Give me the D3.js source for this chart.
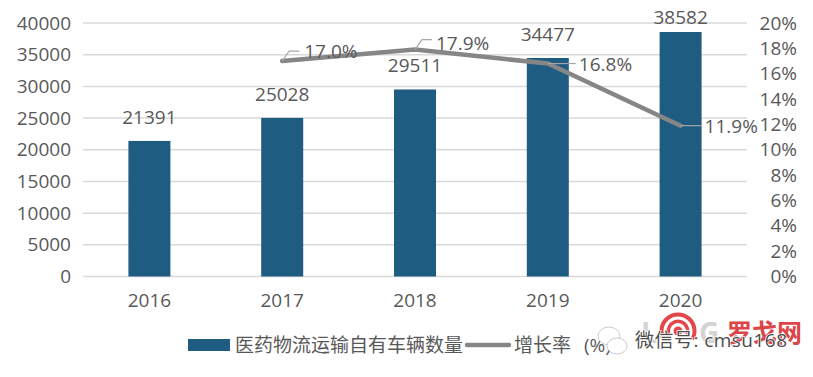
<!DOCTYPE html>
<html>
<head>
<meta charset="utf-8">
<script src="https://d3js.org/d3.v7.min.js"></script>
<style>
  html, body { margin: 0; padding: 0; background: #fff; }
  svg { display: block; }
  text { font-family: "Open Sans", "Noto Sans CJK SC", sans-serif; fill: #595959; }
</style>
</head>
<body>
<script>
var years = ["2016", "2017", "2018", "2019", "2020"];
var vehicles = [21391, 25028, 29511, 34477, 38582];
var growthYears = ["2017", "2018", "2019", "2020"];
var growth = [17.0, 17.9, 16.8, 11.9];
var leftTicks = [0, 5000, 10000, 15000, 20000, 25000, 30000, 35000, 40000];
var rightTicks = [0, 2, 4, 6, 8, 10, 12, 14, 16, 18, 20];
var barName = "医药物流运输自有车辆数量";
var lineName = "增长率";
var lineUnit = "(%)";

var width = 813, height = 377, fontSize = "19px";
var svg = d3.select("body").append("svg").attr("width", width).attr("height", height);

var x = d3.scaleBand().domain(years).range([83, 747]);
var yL = d3.scaleLinear().domain([0, 40000]).range([276.5, 23]);
var yR = d3.scaleLinear().domain([0, 20]).range([276.5, 23]);
var barW = 42;

// gridlines
svg.append("g").selectAll("line").data(leftTicks).enter().append("line")
  .attr("x1", 83).attr("x2", 747)
  .attr("y1", function(d) { return yL(d); })
  .attr("y2", function(d) { return yL(d); })
  .style("stroke", "#d9d9d9").style("stroke-width", 1.5);

// left axis
var axisL = svg.append("g").attr("transform", "translate(71,0)")
  .call(d3.axisLeft(yL).tickValues(leftTicks).tickSize(0).tickPadding(0).tickFormat(d3.format("d")));
axisL.select(".domain").remove();
axisL.selectAll("text").style("font-size", fontSize).style("fill", "#595959");

// right axis
var axisR = svg.append("g").attr("transform", "translate(797,0)")
  .call(d3.axisLeft(yR).tickValues(rightTicks).tickSize(0).tickPadding(0).tickFormat(function(d) { return d + "%"; }));
axisR.select(".domain").remove();
axisR.selectAll("text").style("font-size", fontSize).style("fill", "#595959");

// x axis
var axisX = svg.append("g").attr("transform", "translate(0,293)")
  .call(d3.axisBottom(x).tickSize(0).tickPadding(0));
axisX.select(".domain").remove();
axisX.selectAll("text").style("font-size", fontSize).style("fill", "#595959");

// bars
svg.append("g").selectAll("rect").data(vehicles).enter().append("rect")
  .attr("x", function(d, i) { return x(years[i]) + x.bandwidth() / 2 - barW / 2; })
  .attr("y", function(d) { return yL(d); })
  .attr("width", barW)
  .attr("height", function(d) { return yL(0) - yL(d); })
  .style("fill", "#1f5c82");

// bar labels, the last one sits closer because it runs out of room
var barLabelGap = [17, 17, 17, 17, 8];
svg.append("g").selectAll("text").data(vehicles).enter().append("text")
  .attr("x", function(d, i) { return x(years[i]) + x.bandwidth() / 2; })
  .attr("y", function(d, i) { return yL(d) - barLabelGap[i]; })
  .attr("text-anchor", "middle")
  .style("font-size", fontSize)
  .text(function(d) { return d; });

// growth line
var lineX = function(d, i) { return x(growthYears[i]) + x.bandwidth() / 2; };
var line = d3.line().x(lineX).y(function(d) { return yR(d); });
svg.append("path").datum(growth)
  .attr("d", line)
  .style("fill", "none").style("stroke", "#868686")
  .style("stroke-width", 4.5).style("stroke-linecap", "round");

// leader lines and labels for the growth line
var labelDx = [22, 21, 31, 24];
var labelDy = [-10, -7, 0, 0];
var leaders = svg.append("g");
growth.forEach(function(d, i) {
  var px = lineX(d, i), py = yR(d);
  var path = labelDy[i] < 0
    ? d3.line()([[px, py], [px + 7, py - 10], [px + 17, py - 10]])
    : d3.line()([[px, py], [px + labelDx[i] - 3, py]]);
  leaders.append("path").attr("d", path)
    .style("fill", "none").style("stroke", "#a6a6a6").style("stroke-width", 1.2);
  svg.append("text")
    .attr("x", px + labelDx[i])
    .attr("y", py + labelDy[i] + 7)
    .style("font-size", fontSize)
    .text(d.toFixed(1) + "%");
});

// legend
svg.append("rect").attr("x", 188).attr("y", 339).attr("width", 42).attr("height", 12).style("fill", "#1f5c82");
svg.append("text").attr("x", 235).attr("y", 352).style("font-size", fontSize).text(barName);
svg.append("line").attr("x1", 467).attr("x2", 509).attr("y1", 345).attr("y2", 345)
  .style("stroke", "#868686").style("stroke-width", 4.5).style("stroke-linecap", "round");
svg.append("text").attr("x", 514).attr("y", 352).style("font-size", fontSize).text(lineName);
svg.append("text").attr("x", 584).attr("y", 352).style("font-size", fontSize).text(lineUnit);

// watermark: logo
var logo = svg.append("g");
logo.append("text").attr("x", 641).attr("y", 343).style("font-size", "28px").style("font-weight", "bold")
  .style("fill", "#d4d4d4").text("L");
logo.append("text").attr("x", 699).attr("y", 343).style("font-size", "28px").style("font-weight", "bold")
  .style("fill", "#d4d4d4").text("G");
var arc = d3.arc().startAngle(-2.1).endAngle(2.1);
[[14.5, 18.5], [8, 11.5]].forEach(function(r) {
  logo.append("path").attr("transform", "translate(678,331)")
    .attr("d", arc.innerRadius(r[0]).outerRadius(r[1])())
    .style("fill", "#e2474b");
});
logo.append("circle").attr("cx", 678).attr("cy", 331).attr("r", 4.5).style("fill", "#e2474b");
logo.append("text").attr("x", 727).attr("y", 342).attr("textLength", 75)
  .style("font-size", "25px").style("font-weight", "bold").style("fill", "#dc4448").text("罗戈网");

// watermark: wechat icon and account name
var icon = svg.append("g").style("fill", "#fff").style("stroke", "#bdbdbd").style("stroke-width", 0.8);
icon.append("ellipse").attr("cx", 609).attr("cy", 336).attr("rx", 11).attr("ry", 9);
icon.append("ellipse").attr("cx", 617).attr("cy", 346).attr("rx", 10).attr("ry", 8);
svg.append("text").attr("x", 635).attr("y", 347).attr("textLength", 152)
  .style("font-size", fontSize)
  .style("fill", "#4d4d4d").style("stroke", "#fff").style("stroke-width", 1.5).style("paint-order", "stroke")
  .text("微信号: cmsu168");
</script>
</body>
</html>
